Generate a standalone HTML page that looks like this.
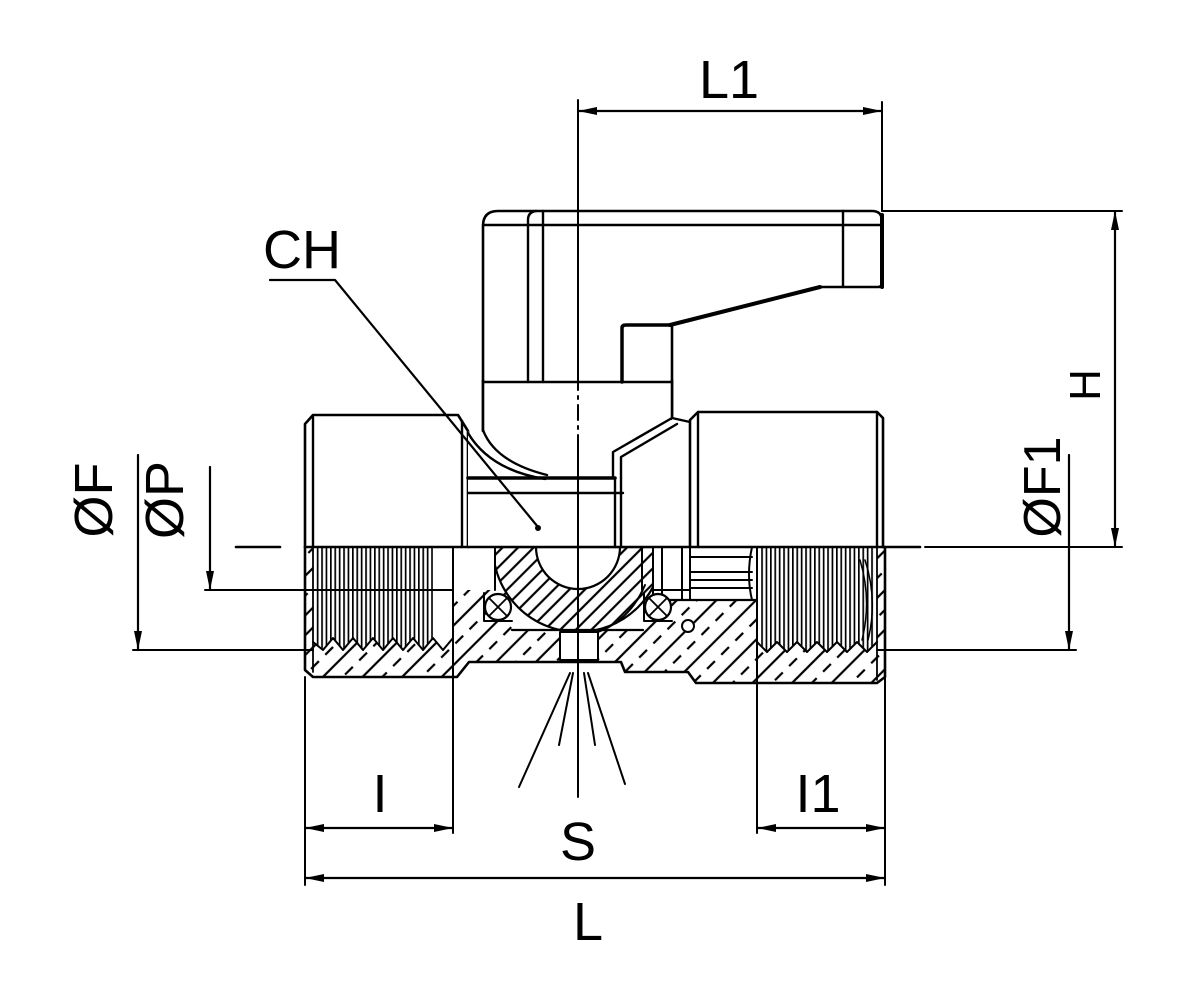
<!DOCTYPE html>
<html><head><meta charset="utf-8">
<style>html,body{margin:0;padding:0;background:#fff}svg{display:block}</style>
</head>
<body>
<svg width="1181" height="1005" viewBox="0 0 1181 1005" xmlns="http://www.w3.org/2000/svg">
<defs>
  <pattern id="hb" width="28" height="20" patternUnits="userSpaceOnUse" patternTransform="rotate(45)">
    <line x1="7" y1="0" x2="7" y2="20" stroke="#000" stroke-width="2.2"/>
    <line x1="21" y1="2" x2="21" y2="13" stroke="#000" stroke-width="2.2"/>
  </pattern>
  <pattern id="hball" width="11" height="20" patternUnits="userSpaceOnUse" patternTransform="rotate(45)">
    <line x1="5.5" y1="0" x2="5.5" y2="20" stroke="#000" stroke-width="2.2"/>
  </pattern>
  <pattern id="th" width="4.4" height="10" patternUnits="userSpaceOnUse">
    <rect x="0" y="0" width="1.7" height="10" fill="#000"/>
  </pattern>
  <clipPath id="ballclip"><rect x="495" y="547" width="158" height="90"/></clipPath>
</defs>

<rect width="1181" height="1005" fill="#fff"/>

<g fill="none" stroke="#000" stroke-linejoin="round" stroke-linecap="round">

<!-- ===== lower body section (hatched) ===== -->
<path d="M305,547 V670 L313,677 H457 L469,662 H621 L625,672 H688 L696,683 H877 L885,677 V547 Z" fill="url(#hb)" stroke="none"/>

<!-- left bore (threaded) -->
<path d="M313,547 H495 V590 H453 V638 L443,650 L433,638 L423,650 L413,638 L403,650 L393,638 L383,650 L373,638 L363,650 L353,638 L343,650 L333,638 L323,650 L313,640 Z" fill="#fff" stroke="none"/>
<path d="M315,547 H433 V638 L423,650 L413,638 L403,650 L393,638 L383,650 L373,638 L363,650 L353,638 L343,650 L333,638 L323,650 L315,642 Z" fill="url(#th)" stroke="none"/>
<polyline points="453,638 443,650 433,638 423,650 413,638 403,650 393,638 383,650 373,638 363,650 353,638 343,650 333,638 323,650 313,642" stroke-width="2"/>

<!-- ball cavity -->
<path d="M495,547 H660 V600 H643 V630 H512 V592 H495 Z" fill="#fff" stroke="none"/>
<!-- right middle region -->
<rect x="653" y="547" width="104" height="53" fill="#fff" stroke="none"/>
<!-- right bore (threaded) -->
<path d="M757,547 H877 V642 L867,652 L857,642 L847,652 L837,642 L827,652 L817,642 L807,652 L797,642 L787,652 L777,642 L767,652 L757,642 Z" fill="#fff" stroke="none"/>
<path d="M759,547 H875 V642 L867,652 L857,642 L847,652 L837,642 L827,652 L817,642 L807,652 L797,642 L787,652 L777,642 L767,652 L759,644 Z" fill="url(#th)" stroke="none"/>
<polyline points="877,642 867,652 857,642 847,652 837,642 827,652 817,642 807,652 797,642 787,652 777,642 767,652 757,642" stroke-width="2"/>
<path d="M865,560 Q878,600 868,640" stroke-width="1.5"/>
<path d="M860,560 Q872,600 862,640" stroke-width="1.5"/>

<!-- center rect under ball -->
<rect x="560" y="632" width="38" height="28" fill="#fff" stroke="#000" stroke-width="2"/>
<line x1="512" y1="630" x2="643" y2="630" stroke-width="2.2"/>

<!-- ball -->
<g clip-path="url(#ballclip)">
  <path d="M493,547 A85,85 0 0,0 663,547 Z M536,547 A42,42 0 0,0 620,547 Z" fill="url(#hball)" fill-rule="evenodd" stroke="#000" stroke-width="2.2"/>
</g>
<path d="M645,585 Q630,620 598,632" stroke-width="2"/>
<line x1="495" y1="547" x2="495" y2="590" stroke-width="2"/>
<line x1="653" y1="547" x2="653" y2="600" stroke-width="2"/>

<!-- right middle detail lines -->
<line x1="642" y1="547" x2="642" y2="590" stroke-width="2"/>
<line x1="662" y1="547" x2="662" y2="600" stroke-width="2"/>
<line x1="682" y1="547" x2="682" y2="600" stroke-width="2"/>
<line x1="690" y1="547" x2="690" y2="600" stroke-width="2"/>
<line x1="653" y1="590" x2="690" y2="590" stroke-width="2"/>
<line x1="690" y1="557" x2="752" y2="557" stroke-width="2"/>
<line x1="690" y1="572" x2="752" y2="572" stroke-width="2"/>
<line x1="690" y1="580" x2="752" y2="580" stroke-width="2"/>
<line x1="690" y1="588" x2="752" y2="588" stroke-width="2"/>
<line x1="653" y1="600" x2="757" y2="600" stroke-width="2.2"/>
<path d="M752,547 Q746,575 752,600" stroke-width="2"/>

<!-- O-rings -->
<circle cx="498" cy="607" r="13" fill="#fff" stroke-width="2.2"/>
<path d="M489,598 L507,616 M507,598 L489,616" stroke-width="1.8"/>
<path d="M484,593 V621 H512" stroke-width="2"/>
<circle cx="658" cy="607" r="13" fill="#fff" stroke-width="2.2"/>
<path d="M649,598 L667,616 M667,598 L649,616" stroke-width="1.8"/>
<path d="M644,593 V621 H672" stroke-width="2"/>
<circle cx="688" cy="626" r="6" fill="#fff" stroke-width="2"/>

<!-- body lower outline -->
<path d="M305,547 V670 L313,677 H457 L469,662 H621 L625,672 H688 L696,683 H877 L885,677 V547" stroke-width="2.6"/>
<line x1="313" y1="547" x2="313" y2="672" stroke-width="1.8"/>
<line x1="877" y1="547" x2="877" y2="680" stroke-width="1.8"/>

<!-- ===== upper parts ===== -->
<!-- handle -->
<path d="M483,430 L483,226 Q483,211 498,211 L872,211 Q882,211 882,221 L882,283 Q882,287 878,287 L820,287 L670,325 L672,325 L672,418" fill="#fff" stroke-width="2.6"/>
<path d="M483,382 V430 H672 V382 Z" fill="#fff" stroke="none"/>
<line x1="483" y1="380" x2="483" y2="431" stroke-width="2.6"/>
<line x1="672" y1="380" x2="672" y2="419" stroke-width="2.6"/>
<path d="M882,215 V287" stroke-width="4"/>
<path d="M820,287 L670,325" stroke-width="4"/>
<path d="M622,382 V328 Q622,325 626,325 H670" stroke-width="3.5"/>
<line x1="483" y1="382" x2="672" y2="382" stroke-width="2.6"/>
<line x1="483" y1="225" x2="882" y2="225" stroke-width="2.4"/>
<path d="M528,382 V220 Q528,212 536,211" stroke-width="2.4"/>
<line x1="543" y1="211" x2="543" y2="382" stroke-width="2.4"/>
<line x1="843" y1="211" x2="843" y2="287" stroke-width="2.4"/>

<!-- left hex -->
<path d="M305,547 V424 L313,415 H458 L468,431 V547" fill="#fff" stroke-width="2.6"/>
<line x1="313" y1="417" x2="313" y2="547" stroke-width="2.4"/>
<line x1="462" y1="421" x2="462" y2="547" stroke-width="2.4"/>

<!-- neck / box -->
<path d="M468,431 Q490,470 545,479 H615 V455 L672,420 V418 L690,422 V547 H468 Z" fill="#fff" stroke="none"/>
<path d="M483,430 Q495,462 547,475" stroke-width="2.4"/>
<path d="M468,433 Q490,470 545,479" stroke-width="2.4"/>
<line x1="468" y1="478" x2="615" y2="478" stroke-width="3.6"/>
<line x1="468" y1="493" x2="623" y2="493" stroke-width="2.4"/>
<path d="M672,418 L613,452 V478" stroke-width="2.4"/>
<path d="M677,424 L621,457 V547" stroke-width="2.4"/>
<line x1="615" y1="478" x2="615" y2="547" stroke-width="2.4"/>
<path d="M672,418 L690,422" stroke-width="2.4"/>

<!-- right hex -->
<path d="M690,547 V420 L698,412 H877 L883,418 V547" fill="#fff" stroke-width="2.6"/>
<line x1="698" y1="412" x2="698" y2="547" stroke-width="2.4"/>
<line x1="877" y1="412" x2="877" y2="547" stroke-width="2.4"/>

<!-- axis line y=547 -->
<line x1="236" y1="547" x2="280" y2="547" stroke-width="2.6"/>
<line x1="305" y1="547" x2="920" y2="547" stroke-width="2.6"/>
<line x1="925" y1="547" x2="1122" y2="547" stroke-width="2"/>

<!-- vertical extension lines through body -->
<line x1="453" y1="547" x2="453" y2="833" stroke-width="2"/>
<line x1="757" y1="547" x2="757" y2="833" stroke-width="2"/>
<line x1="305" y1="677" x2="305" y2="885" stroke-width="2"/>
<line x1="885" y1="677" x2="885" y2="885" stroke-width="2"/>

<!-- center line -->
<path d="M578,100 V390 M578,396 V399 M578,405 V420 M578,426 V429 M578,435 V797" stroke-width="2"/>

<!-- S rays -->
<path d="M570,673 L519,787 M573,673 L559,745 M584,673 L595,745 M588,673 L625,784" stroke-width="2"/>

<!-- leader CH -->
<path d="M270,280 H335 L538,527" stroke-width="2.2"/>

<!-- dimension lines -->
<line x1="578" y1="111" x2="882" y2="111" stroke-width="2.2"/>
<line x1="882" y1="102" x2="882" y2="211" stroke-width="2"/>
<line x1="882" y1="211" x2="1122" y2="211" stroke-width="2"/>
<line x1="1115" y1="211" x2="1115" y2="547" stroke-width="2.2"/>
<line x1="1069" y1="455" x2="1069" y2="650" stroke-width="2.2"/>
<line x1="877" y1="650" x2="1076" y2="650" stroke-width="2"/>
<line x1="138" y1="455" x2="138" y2="650" stroke-width="2.2"/>
<line x1="133" y1="650" x2="313" y2="650" stroke-width="2"/>
<line x1="210" y1="467" x2="210" y2="590" stroke-width="2.2"/>
<line x1="205" y1="590" x2="453" y2="590" stroke-width="2"/>
<line x1="305" y1="828" x2="453" y2="828" stroke-width="2.2"/>
<line x1="757" y1="828" x2="885" y2="828" stroke-width="2.2"/>
<line x1="305" y1="878" x2="885" y2="878" stroke-width="2.2"/>
</g>

<!-- leader dot -->
<circle cx="538" cy="528" r="3" fill="#000"/>

<!-- arrowheads -->
<g fill="#000">
<polygon points="578,111 597,107 597,115"/>
<polygon points="882,111 863,107 863,115"/>
<polygon points="1115,211 1111,230 1119,230"/>
<polygon points="1115,547 1111,528 1119,528"/>
<polygon points="1069,650 1065,631 1073,631"/>
<polygon points="138,650 134,631 142,631"/>
<polygon points="210,590 206,571 214,571"/>
<polygon points="305,828 324,824 324,832"/>
<polygon points="453,828 434,824 434,832"/>
<polygon points="757,828 776,824 776,832"/>
<polygon points="885,828 866,824 866,832"/>
<polygon points="305,878 324,874 324,882"/>
<polygon points="885,878 866,874 866,882"/>
</g>

<!-- labels -->
<g font-family="'Liberation Sans', Arial, sans-serif" fill="#000" font-size="54">
<text x="729" y="98" text-anchor="middle">L1</text>
<text x="263" y="268">CH</text>
<text x="380" y="812" text-anchor="middle">I</text>
<text x="818" y="812" text-anchor="middle">I1</text>
<text x="578" y="860" text-anchor="middle">S</text>
<text x="588" y="940" text-anchor="middle">L</text>
<text transform="translate(112,500) rotate(-90)" text-anchor="middle">ØF</text>
<text transform="translate(183,500) rotate(-90)" text-anchor="middle">ØP</text>
<text transform="translate(1060,487) rotate(-90)" text-anchor="middle" font-size="52">ØF1</text>
<text transform="translate(1100,385) rotate(-90)" text-anchor="middle" font-size="44">H</text>
</g>
</svg>
</body></html>
